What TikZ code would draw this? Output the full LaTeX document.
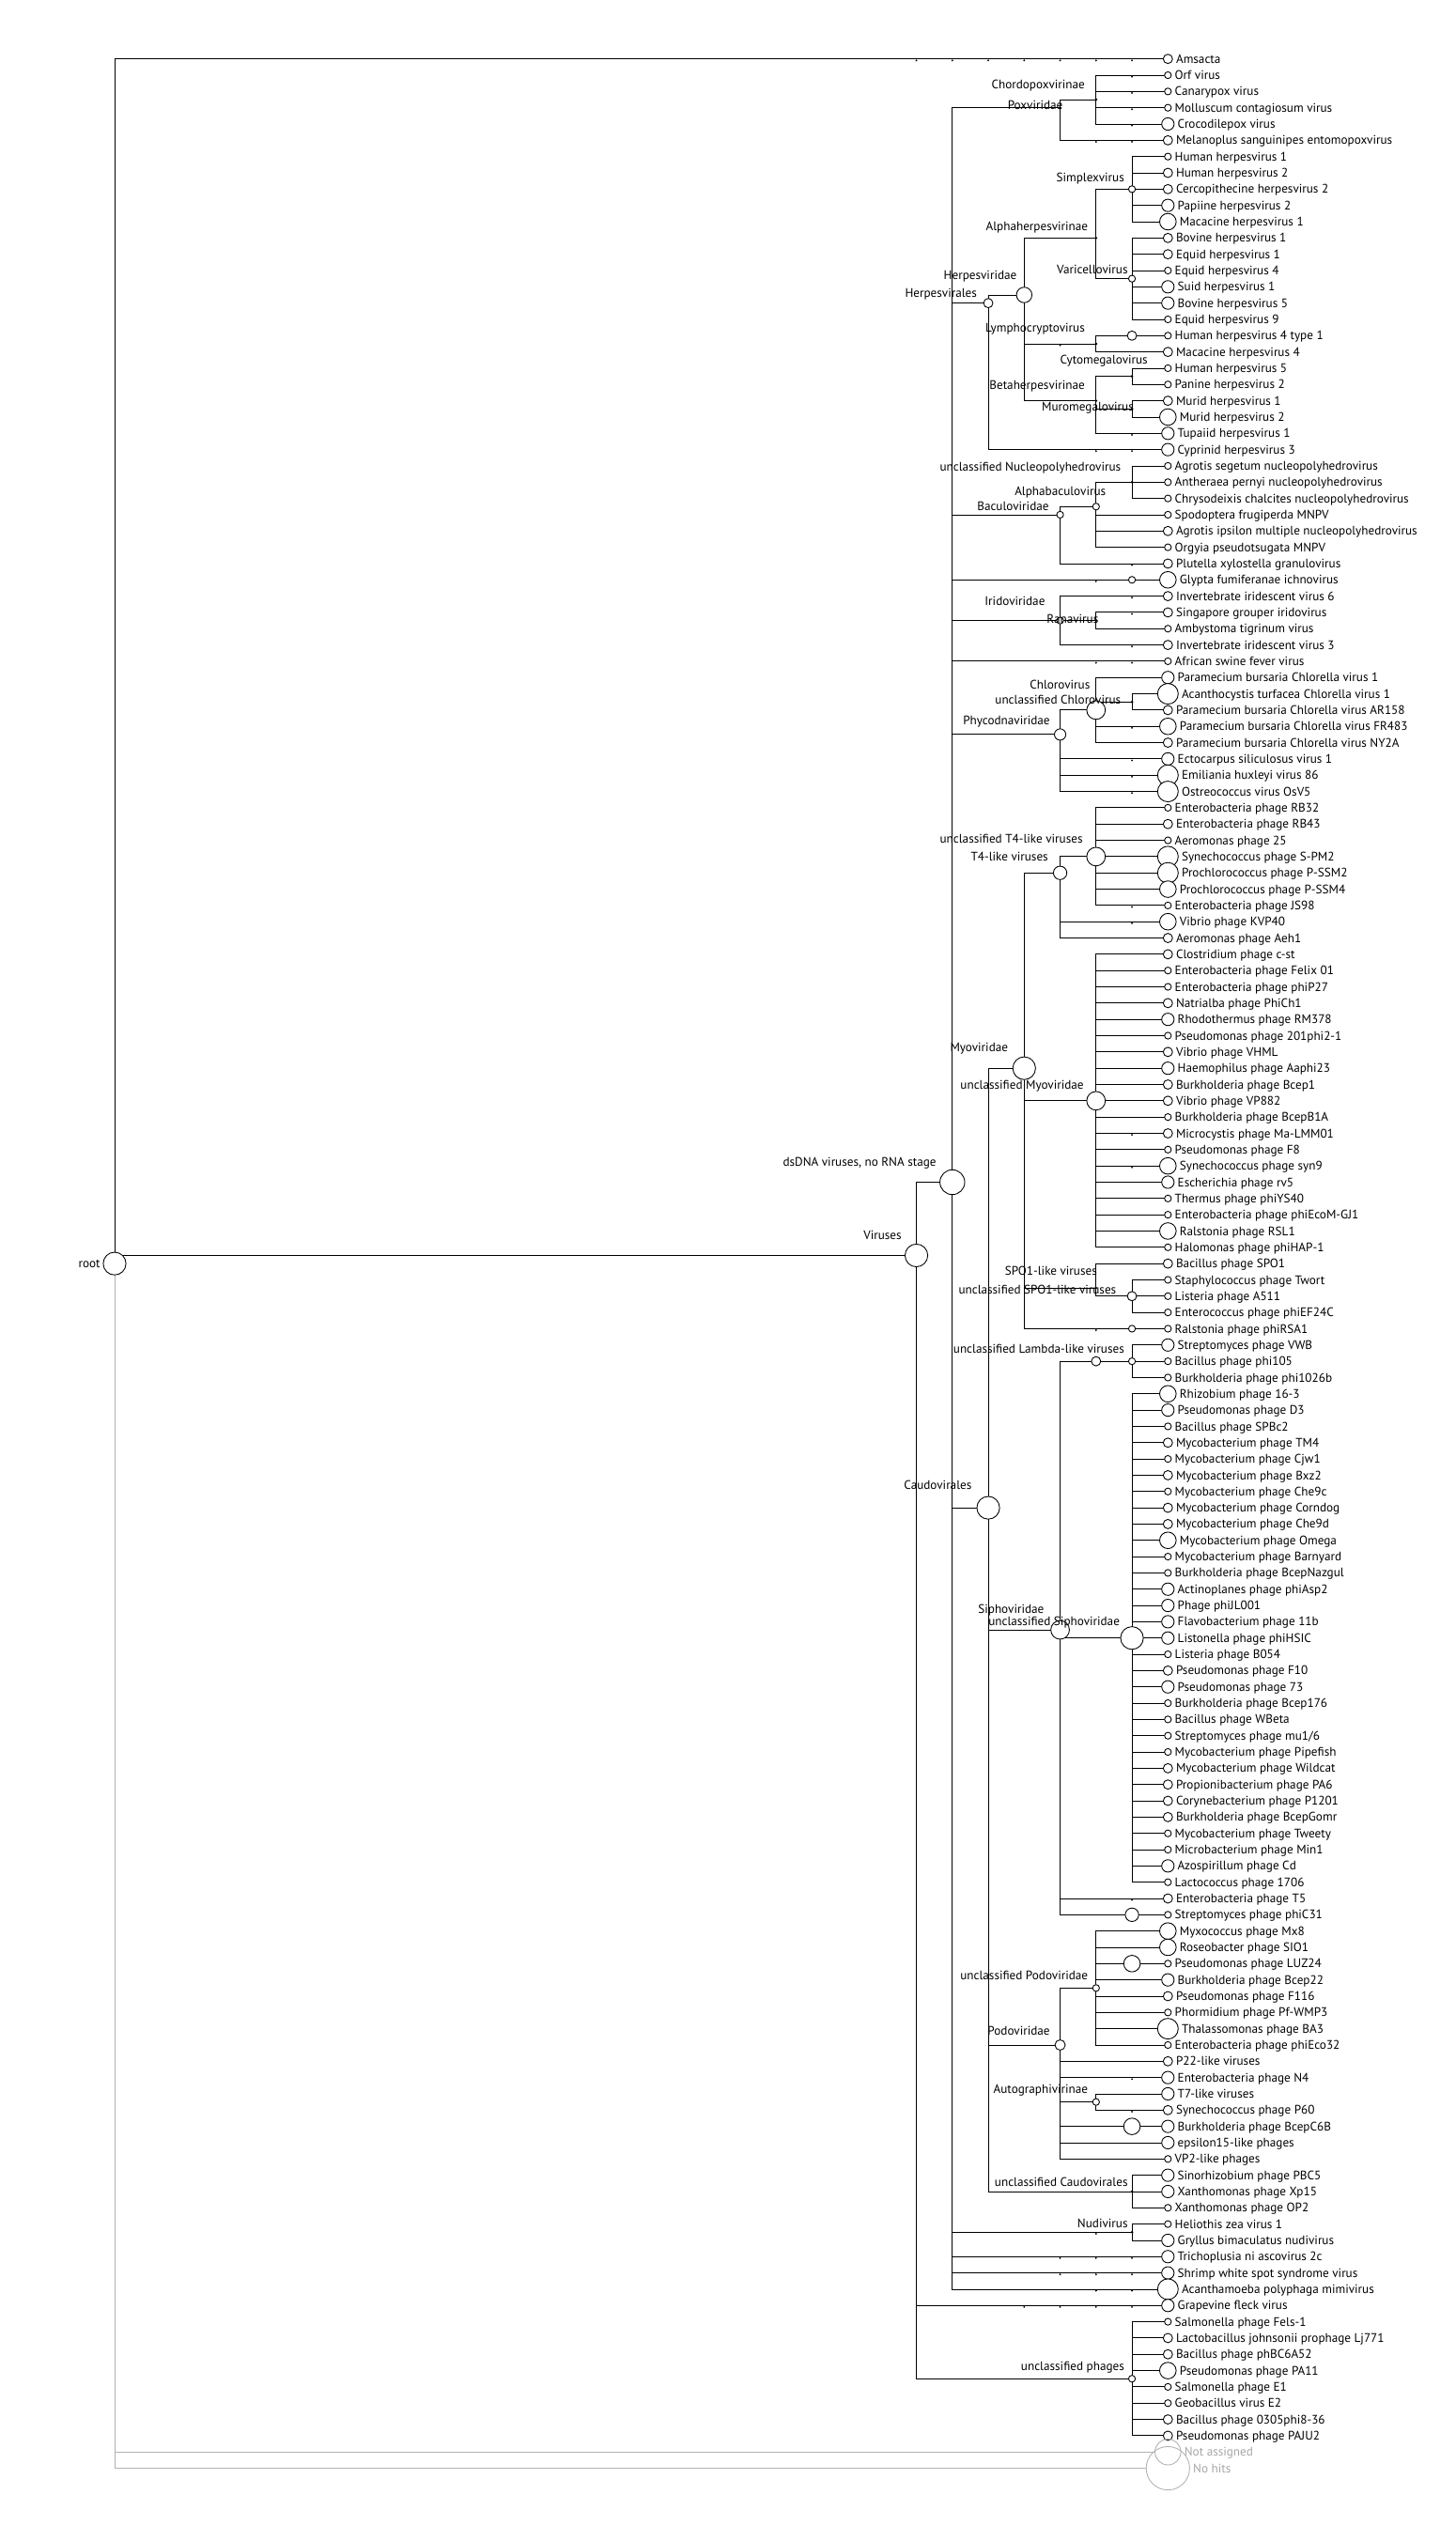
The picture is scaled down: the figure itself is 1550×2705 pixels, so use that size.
\documentclass[tikz,border=0pt]{standalone}
\usepackage{fontspec}
\setmainfont{PT Sans}
\usepackage{tikz}
\pgfdeclarelayer{bg}
\pgfsetlayers{bg,main}
\newcommand{\colx}[1]{1243.3-38.25*#1}
\newcommand{\rowy}[1]{62.7+17.33*#1}
\tikzset{
  hit/.style={circle, draw=black, line width=0.5pt, fill=white, inner sep=0pt, minimum size=#1*0.044cm},
  nohit/.style={circle, draw=gray!60, line width=0.5pt, inner sep=0pt, minimum size=#1*0.044cm},
  branch/.style={line width=0.5pt},
  leafname/.style={font=\fontsize{7.5}{8}\selectfont, inner sep=0.6pt, text height=5.2pt, text depth=0pt},
  taxlabel/.style={font=\fontsize{7.5}{8}\selectfont, anchor=east, inner sep=0pt, text height=5.2pt, text depth=0pt}
}
\begin{document}
\begin{tikzpicture}[x=0.02cm, y=-0.02cm, label distance=1.1pt]
\useasboundingbox (0,0) rectangle (1550,2705);

\foreach \rw/\sz/\txt in {0/4.5/Amsacta, 1/3.3/Orf virus, 2/3.3/Canarypox virus, 3/3.3/Molluscum contagiosum virus,
  4/6/Crocodilepox virus, 5/4.5/Melanoplus sanguinipes entomopoxvirus, 6/3.3/Human herpesvirus 1,
  7/4.5/Human herpesvirus 2, 8/4.5/Cercopithecine herpesvirus 2, 9/6/Papiine herpesvirus 2,
  10/8/Macacine herpesvirus 1, 11/4.5/Bovine herpesvirus 1, 12/4.5/Equid herpesvirus 1,
  13/3.3/Equid herpesvirus 4, 14/6/Suid herpesvirus 1, 15/6/Bovine herpesvirus 5, 16/3.3/Equid herpesvirus 9,
  17/3.3/Human herpesvirus 4 type 1, 18/4.5/Macacine herpesvirus 4, 19/3.3/Human herpesvirus 5,
  20/3.3/Panine herpesvirus 2, 21/4.5/Murid herpesvirus 1, 22/8/Murid herpesvirus 2,
  23/6/Tupaiid herpesvirus 1, 24/6/Cyprinid herpesvirus 3, 25/3.3/Agrotis segetum nucleopolyhedrovirus,
  26/3.3/Antheraea pernyi nucleopolyhedrovirus, 27/3.3/Chrysodeixis chalcites nucleopolyhedrovirus,
  28/3.3/Spodoptera frugiperda MNPV, 29/4.5/Agrotis ipsilon multiple nucleopolyhedrovirus,
  30/3.3/Orgyia pseudotsugata MNPV, 31/4.5/Plutella xylostella granulovirus, 32/8/Glypta fumiferanae ichnovirus,
  33/4.5/Invertebrate iridescent virus 6, 34/4.5/Singapore grouper iridovirus, 35/3.3/Ambystoma tigrinum virus,
  36/4.5/Invertebrate iridescent virus 3, 37/3.3/African swine fever virus,
  38/6/Paramecium bursaria Chlorella virus 1, 39/10/Acanthocystis turfacea Chlorella virus 1,
  40/4.5/Paramecium bursaria Chlorella virus AR158, 41/8/Paramecium bursaria Chlorella virus FR483,
  42/4.5/Paramecium bursaria Chlorella virus NY2A, 43/6/Ectocarpus siliculosus virus 1,
  44/10/Emiliania huxleyi virus 86, 45/10/Ostreococcus virus OsV5, 46/3.3/Enterobacteria phage RB32,
  47/4.5/Enterobacteria phage RB43, 48/3.3/Aeromonas phage 25, 49/10/Synechococcus phage S-PM2,
  50/10/Prochlorococcus phage P-SSM2, 51/8/Prochlorococcus phage P-SSM4, 52/3.3/Enterobacteria phage JS98,
  53/8/Vibrio phage KVP40, 54/4.5/Aeromonas phage Aeh1, 55/4.5/Clostridium phage c-st,
  56/3.3/Enterobacteria phage Felix 01, 57/3.3/Enterobacteria phage phiP27, 58/4.5/Natrialba phage PhiCh1,
  59/6/Rhodothermus phage RM378, 60/3.3/Pseudomonas phage 201phi2-1, 61/4.5/Vibrio phage VHML,
  62/6/Haemophilus phage Aaphi23, 63/4.5/Burkholderia phage Bcep1, 64/4.5/Vibrio phage VP882,
  65/3.3/Burkholderia phage BcepB1A, 66/4.5/Microcystis phage Ma-LMM01, 67/3.3/Pseudomonas phage F8,
  68/8/Synechococcus phage syn9, 69/6/Escherichia phage rv5, 70/3.3/Thermus phage phiYS40,
  71/3.3/Enterobacteria phage phiEcoM-GJ1, 72/8/Ralstonia phage RSL1, 73/3.3/Halomonas phage phiHAP-1,
  74/4.5/Bacillus phage SPO1, 75/3.3/Staphylococcus phage Twort, 76/3.3/Listeria phage A511,
  77/3.3/Enterococcus phage phiEF24C, 78/3.3/Ralstonia phage phiRSA1, 79/6/Streptomyces phage VWB,
  80/3.3/Bacillus phage phi105, 81/3.3/Burkholderia phage phi1026b, 82/8/Rhizobium phage 16-3,
  83/6/Pseudomonas phage D3, 84/3.3/Bacillus phage SPBc2, 85/4.5/Mycobacterium phage TM4,
  86/3.3/Mycobacterium phage Cjw1, 87/4.5/Mycobacterium phage Bxz2, 88/3.3/Mycobacterium phage Che9c,
  89/4.5/Mycobacterium phage Corndog, 90/4.5/Mycobacterium phage Che9d, 91/8/Mycobacterium phage Omega,
  92/3.3/Mycobacterium phage Barnyard, 93/3.3/Burkholderia phage BcepNazgul, 94/6/Actinoplanes phage phiAsp2,
  95/6/Phage phiJL001, 96/6/Flavobacterium phage 11b, 97/6/Listonella phage phiHSIC,
  98/3.3/Listeria phage B054, 99/4.5/Pseudomonas phage F10, 100/6/Pseudomonas phage 73,
  101/3.3/Burkholderia phage Bcep176, 102/3.3/Bacillus phage WBeta, 103/3.3/{Streptomyces phage mu1/6},
  104/3.3/Mycobacterium phage Pipefish, 105/4.5/Mycobacterium phage Wildcat, 106/4.5/Propionibacterium phage PA6,
  107/4.5/Corynebacterium phage P1201, 108/4.5/Burkholderia phage BcepGomr, 109/3.3/Mycobacterium phage Tweety,
  110/3.3/Microbacterium phage Min1, 111/6/Azospirillum phage Cd, 112/3.3/Lactococcus phage 1706,
  113/4.5/Enterobacteria phage T5, 114/3.3/Streptomyces phage phiC31, 115/8/Myxococcus phage Mx8,
  116/8/Roseobacter phage SIO1, 117/3.3/Pseudomonas phage LUZ24, 118/6/Burkholderia phage Bcep22,
  119/4.5/Pseudomonas phage F116, 120/3.3/Phormidium phage Pf-WMP3, 121/10/Thalassomonas phage BA3,
  122/3.3/Enterobacteria phage phiEco32, 123/4.5/P22-like viruses, 124/6/Enterobacteria phage N4,
  125/6/T7-like viruses, 126/4.5/Synechococcus phage P60, 127/6/Burkholderia phage BcepC6B,
  128/6/epsilon15-like phages, 129/3.3/VP2-like phages, 130/6/Sinorhizobium phage PBC5,
  131/6/Xanthomonas phage Xp15, 132/3.3/Xanthomonas phage OP2, 133/3.3/Heliothis zea virus 1,
  134/6/Gryllus bimaculatus nudivirus, 135/6/Trichoplusia ni ascovirus 2c, 136/6/Shrimp white spot syndrome virus,
  137/10/Acanthamoeba polyphaga mimivirus, 138/6/Grapevine fleck virus, 139/3.3/Salmonella phage Fels-1,
  140/4.5/Lactobacillus johnsonii prophage Lj771, 141/4.5/Bacillus phage phBC6A52, 142/8/Pseudomonas phage PA11,
  143/3.3/Salmonella phage E1, 144/3.3/Geobacillus virus E2, 145/4.5/Bacillus phage 0305phi8-36,
  146/4.5/Pseudomonas phage PAJU2}
  \node[hit=\sz, label={[leafname]right:\txt}] (v\rw) at ({\colx{0}},{\rowy{\rw}}) {};
\node[nohit=12.5, label={[leafname, gray!70]right:Not assigned}] (v147) at ({\colx{0}},{\rowy{147}}) {};
\node[nohit=21, label={[leafname, gray!70]right:No hits}] (v148) at ({\colx{0}},{\rowy{148}}) {};

\node[hit=11] (root) at (122,{\rowy{74}}) {};
\foreach \nm/\k/\rw/\sz in {vir/7/73.5/11, dsdna/6/69/12, pox/3/3/0.8, chordo/2/2.5/0.8, herpvl/5/15/4.5,
  herpvd/4/14.5/7.5, alpha/2/11/0.8, simplex/1/8/3.3, varicello/1/13.5/3.3, lympho/2/17.5/0.8,
  hhfour/1/17/4.5, beta/2/21/0.8, cytomeg/1/19.5/0.8, muromeg/1/21.5/0.8, bacu/3/28/3.3,
  alphabacu/2/27.5/3.3, uncnpv/1/26/0.8, glypta/1/32/3.3, irido/3/34.5/3.3, rana/2/34.5/0.8,
  phyco/3/41.5/5.5, chloro/2/40/9, uncchloro/1/39.5/0.8, caudo/5/89/11, myo/4/62/11, tfour/3/50/6.5,
  unctfour/2/49/9, uncmyo/2/64/9, spoone/2/75.5/0.8, uncspoone/1/76/4.5, rsaone/1/78/3.3,
  sipho/3/96.5/9, lambda/2/80/4.5, unclambda/1/80/3.3, uncsipho/1/97/11, phicthree/1/114/6.5,
  podo/3/122/5, uncpodo/2/118.5/3.3, luz/1/117/8, autog/2/125.5/3.3, bcepc/1/127/8,
  unccaudo/1/131/0.8, nudi/1/133.5/0.8, uncphage/1/142.5/3.3}
  \node[hit=\sz] (\nm) at ({\colx{\k}},{\rowy{\rw}}) {};

\node[taxlabel] (troot) at (107,1345) {root};
\node[taxlabel] (tvir) at (960,1315) {Viruses};
\node[taxlabel] (tdsdna) at (997,1236.7) {dsDNA viruses, no RNA stage};
\foreach \nm/\xr/\yc/\txt in {chordo/1155.2/90/Chordopoxvirinae, pox/1131.7/111.7/Poxviridae,
  simplex/1197.2/189.3/Simplexvirus, alpha/1158.5/241/Alphaherpesvirinae, varicello/1200.9/286.7/Varicellovirus,
  herpvd/1082.7/293.3/Herpesviridae, herpvl/1040.3/312.3/Herpesvirales, lympho/1155.2/349.3/Lymphocryptovirus,
  cytomeg/1222.1/383.3/Cytomegalovirus, beta/1155.2/410/Betaherpesvirinae, muromeg/1207.2/432.7/Muromegalovirus,
  uncnpv/1193.5/496.7/unclassified Nucleopolyhedrovirus, alphabacu/1177.5/522.7/Alphabaculovirus,
  bacu/1116.9/539/Baculoviridae, irido/1112.8/640/Iridoviridae, rana/1169.7/659/Ranavirus,
  chloro/1160.7/729.3/Chlorovirus, uncchloro/1193.5/745/unclassified Chlorovirus,
  phyco/1118/766.7/Phycodnaviridae, unctfour/1152.9/892.7/unclassified T4-like viruses,
  tfour/1116.1/911.7/T4-like viruses, myo/1073.4/1115/Myoviridae, uncmyo/1154/1155/unclassified Myoviridae,
  spoone/1168.2/1353.3/SPO1-like viruses, uncspoone/1188.6/1372.7/unclassified SPO1-like viruses,
  unclambda/1197.2/1436/unclassified Lambda-like viruses, caudo/1034.7/1581/Caudovirales,
  sipho/1111.7/1712.7/Siphoviridae, uncsipho/1192.3/1726/unclassified Siphoviridae,
  uncpodo/1158.5/2103.3/unclassified Podoviridae, podo/1118/2161.7/Podoviridae,
  autog/1158.5/2224/Autographivirinae, unccaudo/1200.9/2323/unclassified Caudovirales,
  nudi/1200.9/2366.7/Nudivirus, uncphage/1197.2/2519.3/unclassified phages}
  \node[taxlabel] (t\nm) at (\xr,\yc) {\txt};

\begin{pgfonlayer}{bg}
\foreach \c in {v0,vir} \draw[branch] (root.center) |- (\c.center);
\foreach \c in {dsdna,v138,uncphage} \draw[branch] (vir.center) |- (\c.center);
\foreach \c in {pox,herpvl,bacu,glypta,irido,v37,phyco,caudo,nudi,v135,v136,v137} \draw[branch] (dsdna.center) |- (\c.center);
\foreach \c in {chordo,v5} \draw[branch] (pox.center) |- (\c.center);
\foreach \c in {1,...,4} \draw[branch] (chordo.center) |- (v\c.center);
\foreach \c in {herpvd,v24} \draw[branch] (herpvl.center) |- (\c.center);
\foreach \c in {alpha,lympho,beta} \draw[branch] (herpvd.center) |- (\c.center);
\foreach \c in {simplex,varicello} \draw[branch] (alpha.center) |- (\c.center);
\foreach \c in {6,...,10} \draw[branch] (simplex.center) |- (v\c.center);
\foreach \c in {11,...,16} \draw[branch] (varicello.center) |- (v\c.center);
\foreach \c in {hhfour,v18} \draw[branch] (lympho.center) |- (\c.center);
\draw[branch] (hhfour.center) -- (v17.center);
\foreach \c in {cytomeg,muromeg,v23} \draw[branch] (beta.center) |- (\c.center);
\foreach \c in {19,20} \draw[branch] (cytomeg.center) |- (v\c.center);
\foreach \c in {21,22} \draw[branch] (muromeg.center) |- (v\c.center);
\foreach \c in {alphabacu,v31} \draw[branch] (bacu.center) |- (\c.center);
\foreach \c in {uncnpv,v28,v29,v30} \draw[branch] (alphabacu.center) |- (\c.center);
\foreach \c in {25,26,27} \draw[branch] (uncnpv.center) |- (v\c.center);
\draw[branch] (glypta.center) -- (v32.center);
\foreach \c in {v33,rana,v36} \draw[branch] (irido.center) |- (\c.center);
\foreach \c in {34,35} \draw[branch] (rana.center) |- (v\c.center);
\foreach \c in {chloro,v43,v44,v45} \draw[branch] (phyco.center) |- (\c.center);
\foreach \c in {v38,uncchloro,v41,v42} \draw[branch] (chloro.center) |- (\c.center);
\foreach \c in {39,40} \draw[branch] (uncchloro.center) |- (v\c.center);
\foreach \c in {myo,sipho,podo,unccaudo} \draw[branch] (caudo.center) |- (\c.center);
\foreach \c in {tfour,uncmyo,spoone,rsaone} \draw[branch] (myo.center) |- (\c.center);
\foreach \c in {unctfour,v53,v54} \draw[branch] (tfour.center) |- (\c.center);
\foreach \c in {46,...,52} \draw[branch] (unctfour.center) |- (v\c.center);
\foreach \c in {55,...,73} \draw[branch] (uncmyo.center) |- (v\c.center);
\foreach \c in {v74,uncspoone} \draw[branch] (spoone.center) |- (\c.center);
\foreach \c in {75,76,77} \draw[branch] (uncspoone.center) |- (v\c.center);
\draw[branch] (rsaone.center) -- (v78.center);
\foreach \c in {lambda,uncsipho,v113,phicthree} \draw[branch] (sipho.center) |- (\c.center);
\draw[branch] (lambda.center) -- (unclambda.center);
\foreach \c in {79,80,81} \draw[branch] (unclambda.center) |- (v\c.center);
\foreach \c in {82,...,112} \draw[branch] (uncsipho.center) |- (v\c.center);
\draw[branch] (phicthree.center) -- (v114.center);
\foreach \c in {uncpodo,v123,v124,autog,bcepc,v128,v129} \draw[branch] (podo.center) |- (\c.center);
\foreach \c in {v115,v116,luz,v118,v119,v120,v121,v122} \draw[branch] (uncpodo.center) |- (\c.center);
\draw[branch] (luz.center) -- (v117.center);
\foreach \c in {125,126} \draw[branch] (autog.center) |- (v\c.center);
\draw[branch] (bcepc.center) -- (v127.center);
\foreach \c in {130,131,132} \draw[branch] (unccaudo.center) |- (v\c.center);
\foreach \c in {133,134} \draw[branch] (nudi.center) |- (v\c.center);
\foreach \c in {139,...,146} \draw[branch] (uncphage.center) |- (v\c.center);
\end{pgfonlayer}
\foreach \c in {v147,v148} \draw[branch, gray!60] (root) |- (\c);

\foreach \k/\rw in {7/0,6/0,5/0,4/0,3/0,2/0,1/0, 1/1,1/2,1/3,1/4, 2/5,1/5, 3/17.5, 1/23, 2/24,1/24, 1/31,
  2/32, 1/33,1/34,1/36, 2/37,1/37, 1/41, 1/43,1/44,1/45, 1/52, 1/53, 1/66, 1/68, 2/78, 1/113, 1/124,
  1/126, 2/133.5, 3/135,2/135,1/135, 3/136,2/136,1/136, 2/137,1/137, 4/138,3/138,2/138,1/138}
  \fill ({\colx{\k}},{\rowy{\rw}+1.6}) circle (0.6pt);
\end{tikzpicture}
\end{document}
